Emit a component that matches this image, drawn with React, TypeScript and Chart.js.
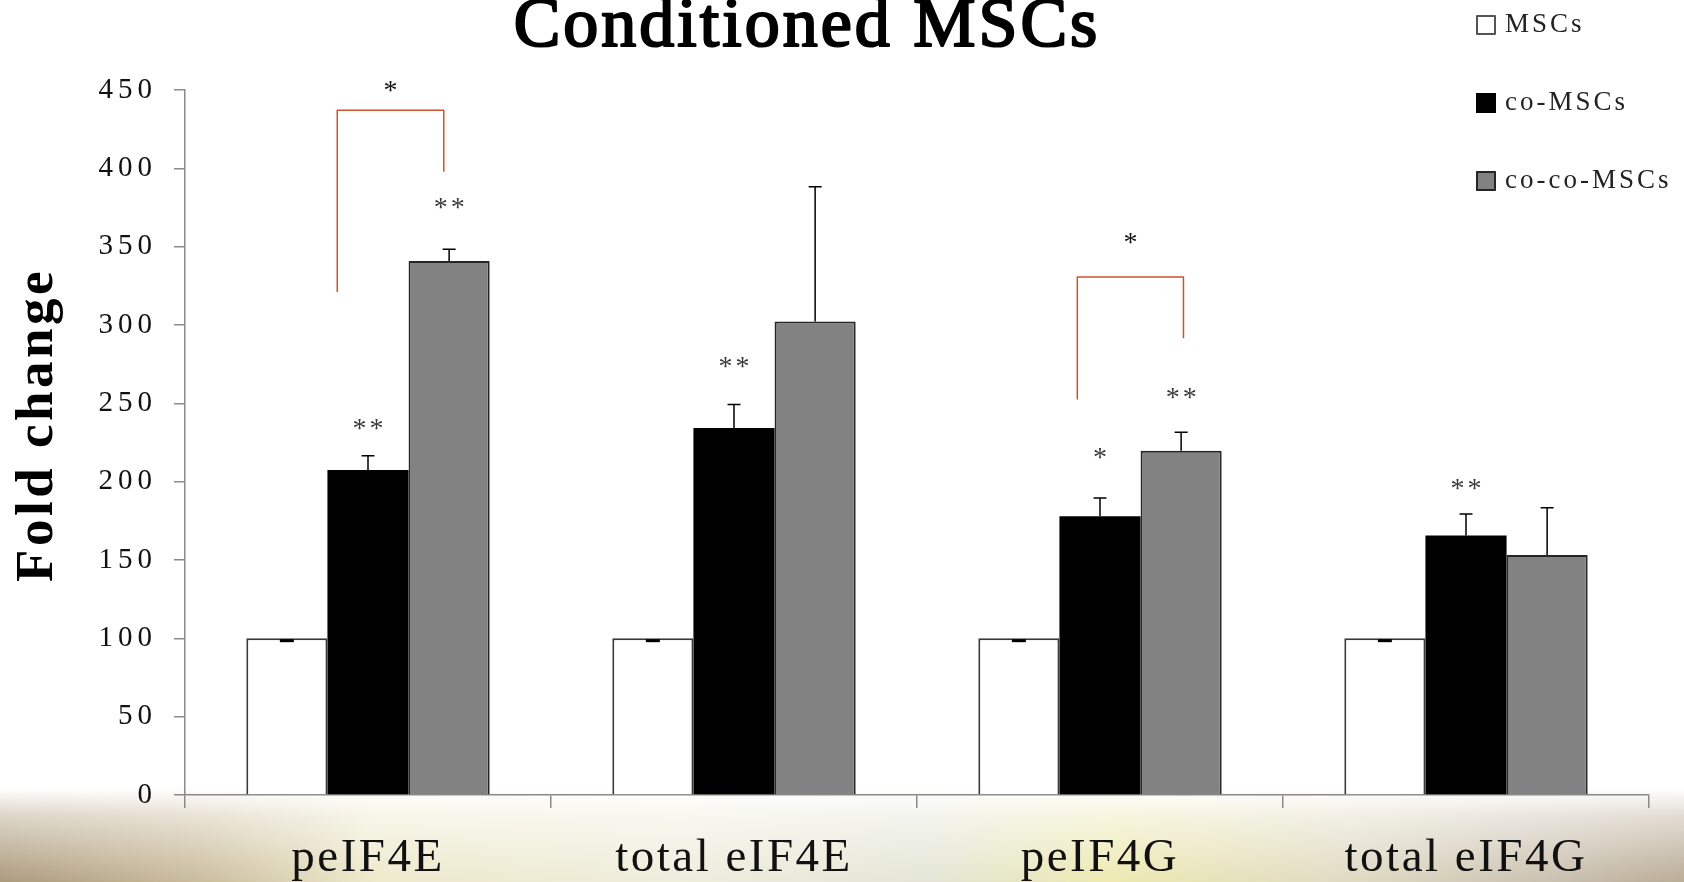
import React, { useEffect, useRef } from 'react';
import { Chart, registerables } from 'chart.js';

Chart.register(...registerables);

// ---------- data ----------
const categories = ['peIF4E', 'total eIF4E', 'peIF4G', 'total eIF4G'];
const seriesNames = ['MSCs', 'co-MSCs', 'co-co-MSCs'];

const mscValues = [100, 100, 100, 100];
const mscErrors = [1.5, 1.5, 1.5, 1.5];
const coValues = [207.5, 234.3, 178.0, 165.6];
const coErrors = [9.0, 15.0, 11.6, 13.7];
const cocoValues = [340.8, 302.3, 219.8, 153.2];
const cocoErrors = [7.5, 85.9, 11.7, 30.2];

const yMin = 0;
const yMax = 450;
const yStep = 50;

// significance marks: category index, series index, text, value where the mark sits
const starCats = [0, 0, 1, 2, 2, 3];
const starSeries = [1, 2, 1, 1, 2, 1];
const starTexts = ['**', '**', '**', '*', '**', '**'];
const starValues = [236.7, 377.9, 276.4, 218.2, 256.5, 198.3];

// brackets between co-MSCs and co-co-MSCs (x as fractional category index offsets, y as values)
const bracketCats = [0, 2];
const bracketLeftOffsets = [-0.084, -0.062];
const bracketRightOffsets = [0.207, 0.228];
const bracketTopValues = [437.0, 330.6];
const bracketLeftEndValues = [321.0, 252.4];
const bracketRightEndValues = [397.8, 291.5];
const bracketStarValues = [452.6, 355.3];
const bracketTexts = ['*', '*'];

// ---------- styles ----------
const SERIF = '"Liberation Serif", "Times New Roman", serif';
const AXIS_GRAY = '#8a8a8a';
const FILLS = ['#ffffff', '#000000', '#828282'];
const BORDERS = ['#3a3a3a', '#000000', '#262626'];

const decorPlugin = {
  id: 'decor',
  beforeDraw(chart: any) {
    const ctx = chart.ctx;
    const W = chart.width;
    const H = chart.height;
    ctx.save();
    ctx.fillStyle = '#ffffff';
    ctx.fillRect(0, 0, W, H);
    const y0 = 788;
    const band = ctx.createLinearGradient(0, 0, W, 0);
    band.addColorStop(0.0, 'rgb(168,150,118)');
    band.addColorStop(0.12, 'rgb(200,186,152)');
    band.addColorStop(0.22, 'rgb(236,232,200)');
    band.addColorStop(0.4, 'rgb(238,236,218)');
    band.addColorStop(0.55, 'rgb(226,228,212)');
    band.addColorStop(0.66, 'rgb(236,232,172)');
    band.addColorStop(0.8, 'rgb(222,216,192)');
    band.addColorStop(0.92, 'rgb(200,190,172)');
    band.addColorStop(1.0, 'rgb(182,168,146)');
    ctx.fillStyle = band;
    ctx.fillRect(0, y0, W, H - y0);
    const fade = ctx.createLinearGradient(0, y0, 0, H);
    fade.addColorStop(0, 'rgba(255,255,255,1)');
    fade.addColorStop(0.3, 'rgba(255,255,255,0.6)');
    fade.addColorStop(1, 'rgba(255,255,255,0.05)');
    ctx.fillStyle = fade;
    ctx.fillRect(0, y0, W, H - y0);
    ctx.restore();
    ctx.letterSpacing = '2.5px';
  },
  afterDatasetsDraw(chart: any) {
    const ctx = chart.ctx;
    const yScale = chart.scales.y;
    const errs = [mscErrors, coErrors, cocoErrors];
    const vals = [mscValues, coValues, cocoValues];
    ctx.save();
    ctx.strokeStyle = '#000';
    for (let d = 0; d < 3; d++) {
      const meta = chart.getDatasetMeta(d);
      meta.data.forEach((el: any, j: number) => {
        const v = vals[d][j];
        const e = errs[d][j];
        const x = el.x;
        if (d === 0) {
          // tiny error: only the lower cap is visible below the bar's top edge
          const yBot = yScale.getPixelForValue(v - e);
          ctx.lineWidth = 3;
          ctx.beginPath();
          ctx.moveTo(x - 7, yBot);
          ctx.lineTo(x + 7, yBot);
          ctx.stroke();
          return;
        }
        const yTop = yScale.getPixelForValue(v + e);
        ctx.lineWidth = 1.5;
        ctx.beginPath();
        ctx.moveTo(x, el.y);
        ctx.lineTo(x, yTop);
        ctx.moveTo(x - 6.5, yTop);
        ctx.lineTo(x + 6.5, yTop);
        ctx.stroke();
      });
    }
    ctx.restore();
    ctx.letterSpacing = '5px';
  },
  afterDraw(chart: any) {
    const ctx = chart.ctx;
    const xScale = chart.scales.x;
    const yScale = chart.scales.y;
    ctx.save();

    // title
    ctx.letterSpacing = '3px';
    ctx.fillStyle = '#000';
    ctx.strokeStyle = '#000';
    ctx.lineWidth = 2.2;
    ctx.lineJoin = 'round';
    ctx.font = `70px ${SERIF}`;
    ctx.textAlign = 'center';
    ctx.textBaseline = 'alphabetic';
    ctx.fillText('Conditioned MSCs', 807, 46);
    ctx.strokeText('Conditioned MSCs', 807, 46);

    // y axis title
    ctx.save();
    ctx.translate(52, 425);
    ctx.rotate(-Math.PI / 2);
    ctx.letterSpacing = '3.5px';
    ctx.font = `bold 53px ${SERIF}`;
    ctx.textAlign = 'center';
    ctx.textBaseline = 'alphabetic';
    ctx.fillText('Fold change', 0, 0);
    ctx.restore();

    // legend
    const baselines = [32, 110, 188];
    ctx.letterSpacing = '3px';
    ctx.font = `27px ${SERIF}`;
    ctx.textAlign = 'left';
    seriesNames.forEach((name, i) => {
      const b = baselines[i];
      ctx.fillStyle = FILLS[i];
      ctx.fillRect(1476, b - 17, 20, 20);
      ctx.lineWidth = 2;
      ctx.strokeStyle = i === 0 ? '#555' : BORDERS[i];
      ctx.strokeRect(1477, b - 16, 18, 18);
      ctx.fillStyle = '#222';
      ctx.fillText(name, 1505, b);
    });

    // significance stars above bars
    ctx.letterSpacing = '3px';
    ctx.font = `28px ${SERIF}`;
    ctx.textAlign = 'center';
    ctx.fillStyle = '#3a3a3a';
    starTexts.forEach((t, k) => {
      const el = chart.getDatasetMeta(starSeries[k]).data[starCats[k]];
      const y = yScale.getPixelForValue(starValues[k]);
      ctx.fillText(t, el.x + 1.5, y + 13);
    });

    // brackets
    ctx.strokeStyle = '#cc5530';
    ctx.lineWidth = 1.5;
    bracketCats.forEach((c, k) => {
      const xl = xScale.getPixelForValue(c + bracketLeftOffsets[k]);
      const xr = xScale.getPixelForValue(c + bracketRightOffsets[k]);
      const yt = yScale.getPixelForValue(bracketTopValues[k]);
      const yl = yScale.getPixelForValue(bracketLeftEndValues[k]);
      const yr = yScale.getPixelForValue(bracketRightEndValues[k]);
      ctx.beginPath();
      ctx.moveTo(xl, yl);
      ctx.lineTo(xl, yt);
      ctx.lineTo(xr, yt);
      ctx.lineTo(xr, yr);
      ctx.stroke();
      ctx.fillStyle = '#111';
      ctx.fillText(bracketTexts[k], (xl + xr) / 2 + 1.5, yScale.getPixelForValue(bracketStarValues[k]) + 13);
    });

    ctx.restore();
  },
};

export default function App() {
  const canvasRef = useRef<HTMLCanvasElement | null>(null);

  useEffect(() => {
    const canvas = canvasRef.current;
    if (!canvas) return;
    const datasets = [mscValues, coValues, cocoValues].map((vals, i) => ({
      label: seriesNames[i],
      data: vals,
      backgroundColor: FILLS[i],
      borderColor: BORDERS[i],
      borderWidth: i === 1 ? 0 : 2,
      categoryPercentage: 0.665,
      barPercentage: 1.0,
    }));
    const chart = new Chart(canvas, {
      type: 'bar',
      data: { labels: categories, datasets },
      plugins: [decorPlugin],
      options: {
        animation: false,
        responsive: false,
        devicePixelRatio: 1,
        layout: { padding: { left: 0, right: 35, top: 90, bottom: 0 } },
        plugins: {
          legend: { display: false },
          title: { display: false },
          tooltip: { enabled: false },
        },
        scales: {
          x: {
            type: 'category',
            offset: true,
            afterFit: (scale: any) => {
              scale.height = 87;
            },
            grid: {
              display: true,
              drawOnChartArea: false,
              drawTicks: true,
              tickLength: 13,
              color: AXIS_GRAY,
              lineWidth: 1.5,
              offset: true,
            },
            border: { display: true, color: AXIS_GRAY, width: 1.5 },
            ticks: {
              font: { family: SERIF, size: 47 },
              color: '#111',
              padding: 22,
              maxRotation: 0,
              autoSkip: false,
            },
          },
          y: {
            type: 'linear',
            min: yMin,
            max: yMax,
            afterFit: (scale: any) => {
              scale.width = 185;
            },
            grid: {
              display: true,
              drawOnChartArea: false,
              drawTicks: true,
              tickLength: 11,
              color: AXIS_GRAY,
              lineWidth: 1.5,
            },
            border: { display: true, color: AXIS_GRAY, width: 1.5 },
            ticks: {
              stepSize: yStep,
              font: { family: SERIF, size: 29 },
              color: '#111',
              padding: 17,
              z: 1,
            },
          },
        },
      } as any,
    });
    return () => chart.destroy();
  }, []);

  return (
    <div style={{ position: 'fixed', left: 0, top: 0, width: 1684, height: 882 }}>
      <canvas ref={canvasRef} width={1684} height={882} style={{ display: 'block' }} />
    </div>
  );
}
